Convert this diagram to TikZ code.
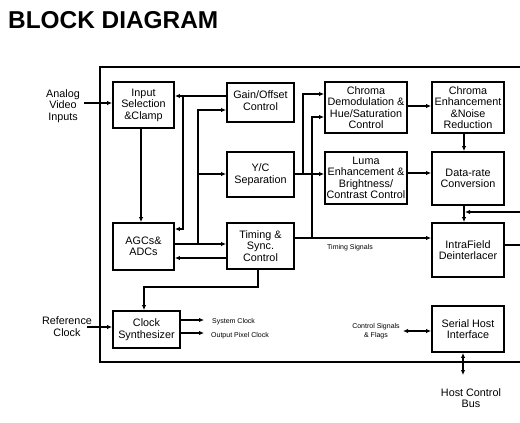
\documentclass[tikz,border=0pt]{standalone}
\usepackage{fontspec}
\setmainfont{Liberation Sans}
\usetikzlibrary{arrows.meta}
\begin{document}
\begin{tikzpicture}[x=1pt,y=-1pt,
  blk/.style={draw,line width=1.9pt,inner sep=0pt,align=center,font=\fontsize{10.8}{11.5}\selectfont},
  lbl/.style={inner sep=0pt,align=center,font=\fontsize{10.8}{11.5}\selectfont},
  small/.style={inner sep=0pt,align=center,font=\fontsize{7}{9}\selectfont},
  conn/.style={line width=1.2pt},
  arr/.style={conn,-{Latex[length=5pt,width=4.5pt]}},
  darr/.style={conn,{Latex[length=5pt,width=4.5pt]}-{Latex[length=5pt,width=4.5pt]}},
]
\useasboundingbox (0,0) rectangle (520,423);
% title
\node[anchor=base west,inner sep=0pt,font=\bfseries\fontsize{24.4}{28}\selectfont] (title) at (8,28) {BLOCK DIAGRAM};
% frame
\draw[line width=1.9pt] (520,67) -- (100,67) -- (100,362) -- (520,362);
% blocks
\node[blk,minimum width=61pt,minimum height=46pt] (insel) at (143.5,105) {Input\\Selection\\\&Clamp};
\node[blk,minimum width=61pt,minimum height=47pt] (agc) at (143.5,246.5) {AGCs\&\\ADCs};
\node[blk,minimum width=67pt,minimum height=37pt] (clk) at (146.5,329.5) {Clock\\Synthesizer};
\node[blk,minimum width=67pt,minimum height=39pt,text depth=4pt] (gain) at (260.5,102.5) {Gain/Offset\\Control};
\node[blk,minimum width=67pt,minimum height=45pt] (yc) at (260.5,174.5) {Y/C\\Separation};
\node[blk,minimum width=67pt,minimum height=46pt] (timing) at (260.5,246) {Timing \&\\Sync.\\Control};
\node[blk,minimum width=82pt,minimum height=51pt] (cdemod) at (366,107.5) {Chroma\\Demodulation \&\\Hue/Saturation\\Control};
\node[blk,minimum width=82pt,minimum height=52pt] (luma) at (366,178) {Luma\\Enhancement \&\\Brightness/\\Contrast Control};
\node[blk,minimum width=72pt,minimum height=51pt] (cenh) at (468,107.5) {Chroma\\Enhancement\\\&Noise\\Reduction};
\node[blk,minimum width=72pt,minimum height=53pt] (drate) at (468,178.5) {Data-rate\\Conversion};
\node[blk,minimum width=72pt,minimum height=54pt] (deint) at (468,250) {IntraField\\Deinterlacer};
\node[blk,minimum width=72pt,minimum height=46pt] (serial) at (468,329) {Serial Host\\Interface};
% outside labels
\node[lbl] (ain) at (63,106) {Analog\\Video\\Inputs};
\node[lbl] (rclk) at (67,326.5) {Reference\\Clock};
\node[lbl] (bus) at (471,398) {Host Control\\Bus};
\node[small,anchor=west] (sys) at (212,322) {System Clock};
\node[small,anchor=west] (opc) at (211,336) {Output Pixel Clock};
\node[small,anchor=west] (tsig) at (327,248) {Timing Signals};
\node[small] (ctrl) at (376,331.5) {Control Signals\\\& Flags};
% helper coordinates
\coordinate (aS) at (84,103);
\coordinate (rS) at (87,327);
\coordinate (sE) at (204,320);
\coordinate (oE) at (204,333);
\coordinate (jA) at (183,96);
\coordinate (jAd) at (183,229);
\coordinate (jB) at (198,244);
\coordinate (jBg) at (198,110);
\coordinate (jBy) at (198,174);
\coordinate (tA) at (200,258);
\coordinate (iA) at (141,0);
\coordinate (tc1) at (258,287);
\coordinate (tc2) at (144,287);
\coordinate (jC) at (303,174);
\coordinate (jCu) at (303,94);
\coordinate (jD) at (312,238);
\coordinate (jDu) at (312,117);
\coordinate (cA) at (0,106);
\coordinate (lA) at (0,173);
\coordinate (vA) at (464,0);
\coordinate (rin) at (520,212);
\coordinate (rinj) at (465,212);
\coordinate (rout) at (520,245);
\coordinate (sL) at (403,331);
\coordinate (bB) at (463,375);
% connectors
\draw[arr] (aS) -- (insel.west |- aS);
\draw[arr] (rS) -- (clk.west |- rS);
\draw[arr] (clk.east |- sE) -- (sE);
\draw[arr] (clk.east |- oE) -- (oE);
\draw[arr] (gain.west |- jA) -- (insel.east |- jA);
\draw[arr] (jA) -- (jAd) -- (agc.east |- jAd);
\draw[arr] (agc.east |- jB) -- (timing.west |- jB);
\draw[arr] (jB) -- (jBg) -- (gain.west |- jBg);
\draw[arr] (jBy) -- (yc.west |- jBy);
\draw[arr] (timing.west |- tA) -- (agc.east |- tA);
\draw[arr] (insel.south -| iA) -- (agc.north -| iA);
\draw[arr] (timing.south -| tc1) -- (tc1) -- (tc2) -- (clk.north -| tc2);
\draw[arr] (yc.east |- jC) -- (luma.west |- jC);
\draw[arr] (jC) -- (jCu) -- (cdemod.west |- jCu);
\draw[arr] (timing.east |- jD) -- (deint.west |- jD);
\draw[arr] (jD) -- (jDu) -- (cdemod.west |- jDu);
\draw[arr] (cdemod.east |- cA) -- (cenh.west |- cA);
\draw[arr] (luma.east |- lA) -- (drate.west |- lA);
\draw[arr] (cenh.south -| vA) -- (drate.north -| vA);
\draw[arr] (drate.south -| vA) -- (deint.north -| vA);
\draw[arr] (rin) -- (rinj);
\draw[conn] (deint.east |- rout) -- (rout);
\draw[darr] (sL) -- (serial.west |- sL);
\draw[darr] (serial.south -| bB) -- (bB);
\end{tikzpicture}
\end{document}
